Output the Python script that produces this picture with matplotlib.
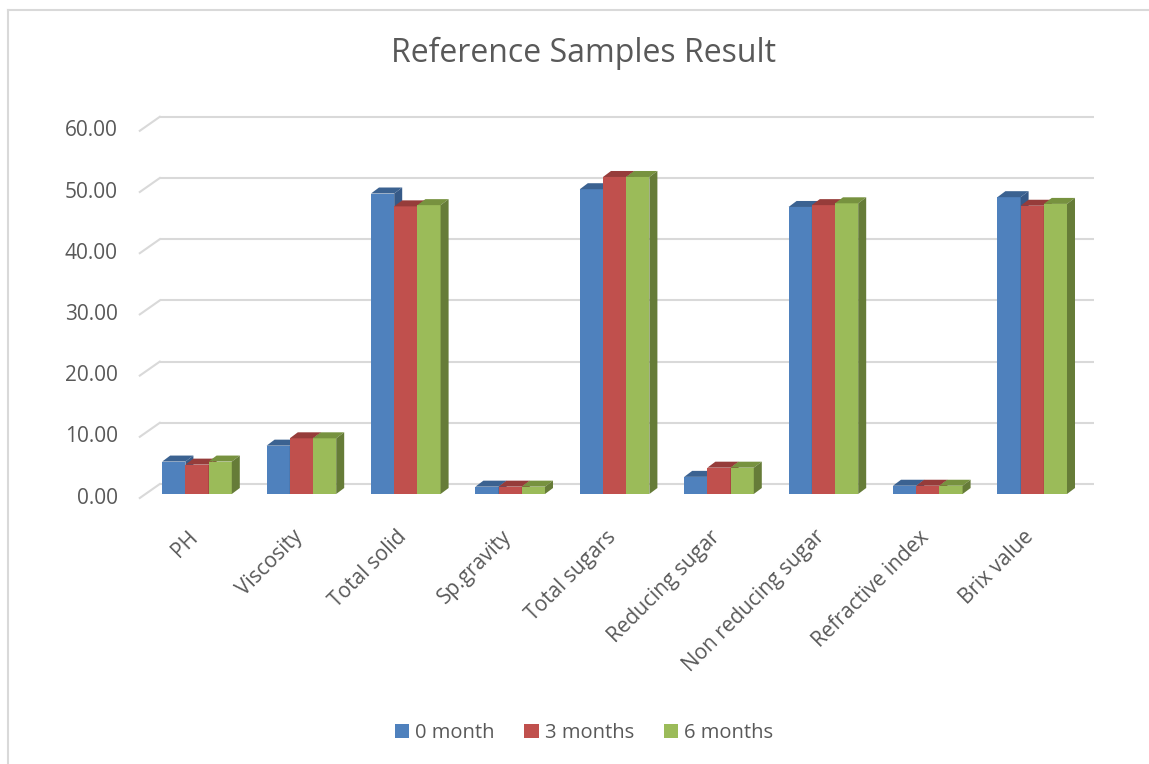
import matplotlib
matplotlib.use("Agg")
import matplotlib.pyplot as plt
from matplotlib.patches import Polygon
from matplotlib.lines import Line2D
from matplotlib.patches import Patch

plt.rcParams['font.family'] = ['Open Sans', 'DejaVu Sans']

categories = ["PH", "Viscosity", "Total solid", "Sp.gravity", "Total sugars",
              "Reducing sugar", "Non reducing sugar", "Refractive index", "Brix value"]
series_names = ["0 month", "3 months", "6 months"]
month0 = [5.3, 7.9, 49.1, 1.2, 49.8, 2.8, 46.9, 1.35, 48.5]
month3 = [4.8, 9.1, 47.0, 1.2, 51.8, 4.3, 47.2, 1.35, 47.1]
month6 = [5.3, 9.1, 47.2, 1.2, 51.8, 4.3, 47.5, 1.35, 47.4]
yticks = [0, 10, 20, 30, 40, 50, 60]
title = "Reference Samples Result"

front_colors = ["#4f81bd", "#c0504d", "#9bbb59"]
top_colors = ["#3b6291", "#963c3a", "#77923f"]
side_colors = ["#365a88", "#8a3735", "#667c38"]
text_color = "#595959"
grid_color = "#d9d9d9"

W, H = 1149, 764
fig = plt.figure(figsize=(W / 100, H / 100), dpi=100)
fig.patch.set_facecolor("white")

# axes geometry (pixels)
ax_l, ax_r, ax_t, ax_b = 130, 1110, 100, 510
cat_px = 104.4      # pixels per category
x0_px = 197.0       # pixel x of first category center (bar front plane)
val_px = 6.12       # pixels per value unit
y0_px = 494.0       # pixel y of value 0 (bar front plane)

ax = fig.add_axes([ax_l / W, (H - ax_b) / H, (ax_r - ax_l) / W, (ax_b - ax_t) / H])
ax.set_xlim((ax_l - x0_px) / cat_px, (ax_r - x0_px) / cat_px)
ax.set_ylim((y0_px - ax_b) / val_px, (y0_px - ax_t) / val_px)
ax.axis("off")

# 3D offsets in data units
bar_dx, bar_dy = 8 / cat_px, 6 / val_px
wall_dx, wall_dy = 15 / cat_px, 10 / val_px
floor_dx, floor_dy = -5 / cat_px, -4 / val_px
wall_left = -0.5 + floor_dx
wall_right = len(categories) - 0.5 + wall_dx - 0.05

# back wall gridlines + left side diagonals
for v in yticks:
    ax.plot([wall_left + wall_dx - floor_dx, wall_right], [v + wall_dy, v + wall_dy],
            color=grid_color, lw=1.5, zorder=1, solid_capstyle="butt")
    ax.plot([wall_left, wall_left + wall_dx - floor_dx], [v + floor_dy, v + wall_dy],
            color=grid_color, lw=1.5, zorder=1)
    ax.text(wall_left - 22 / cat_px, v + floor_dy, f"{v:.2f}", ha="right", va="center",
            fontsize=15, color=text_color)

# bars
bw = 0.2222
data = [month0, month3, month6]
for j, vals in enumerate(data):
    xs = [i - 1.5 * bw + (j + 0.5) * bw for i in range(len(categories))]
    bars = ax.bar(xs, vals, width=bw, color=front_colors[j], edgecolor="none")
    for i, (b, v) in enumerate(zip(bars, vals)):
        z = 10 + i * 10 + j * 3
        b.set_zorder(z)
        xl = xs[i] - bw / 2
        xr = xs[i] + bw / 2
        top = Polygon([(xl, v), (xl + bar_dx, v + bar_dy), (xr + bar_dx, v + bar_dy), (xr, v)],
                      closed=True, facecolor=top_colors[j], edgecolor="none", zorder=z + 1)
        side = Polygon([(xr, 0), (xr + bar_dx, bar_dy), (xr + bar_dx, v + bar_dy), (xr, v)],
                       closed=True, facecolor=side_colors[j], edgecolor="none", zorder=z + 2)
        ax.add_patch(top)
        ax.add_patch(side)

# category labels
for i, c in enumerate(categories):
    ax.annotate(c, xy=(i, 0), xycoords="data", xytext=(-2, -40), textcoords="offset pixels",
                rotation=45, ha="right", va="center", rotation_mode="anchor",
                fontsize=15, color=text_color)

# title
fig.text(583 / W, 1 - 53 / H, title, ha="center", va="center", fontsize=23, color=text_color)

# legend
handles = [Patch(facecolor=c, edgecolor="none") for c in front_colors]
fig.legend(handles, series_names, loc="center", bbox_to_anchor=(584 / W, 1 - 733 / H),
           ncol=3, frameon=False, fontsize=14.5, handlelength=0.7, handleheight=0.7,
           handletextpad=0.3, columnspacing=1.5, labelcolor=text_color)

# chart border (top and left visible)
fig.add_artist(Line2D([8 / W, 8 / W], [0, 1 - 10 / H], color=grid_color, lw=1.5))
fig.add_artist(Line2D([8 / W, 1], [1 - 10 / H, 1 - 10 / H], color=grid_color, lw=1.5))

fig.savefig("out.png", dpi=100, facecolor="white")
